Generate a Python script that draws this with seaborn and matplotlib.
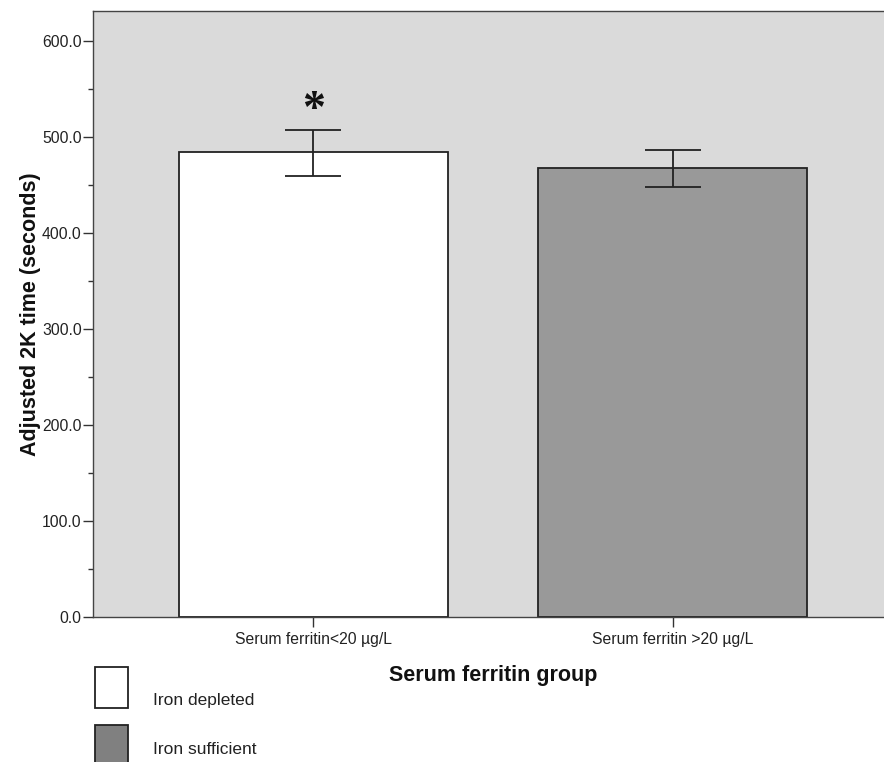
import matplotlib
matplotlib.use("Agg")
import matplotlib.pyplot as plt
from matplotlib.patches import Rectangle
from matplotlib.ticker import MultipleLocator
import numpy as np
import seaborn as sns

# ---- data ----
groups = ["Serum ferritin<20 \u00b5g/L", "Serum ferritin >20 \u00b5g/L"]
means = [484.0, 467.4]
ci_low = [459.0, 447.6]
ci_high = [507.3, 486.1]
y_ticks = [0, 100, 200, 300, 400, 500, 600]
legend_labels = ["Iron depleted", "Iron sufficient"]
bar_colors = ["#FFFFFF", "#999999"]
legend_colors = ["#FFFFFF", "#808080"]

sns.set_style("white")
plt.rcParams["font.family"] = ["Liberation Sans", "DejaVu Sans"]

W, H = 884, 762
fig = plt.figure(figsize=(W / 100, H / 100), dpi=100)
ax = fig.add_axes([93 / W, (H - 617) / H, 800 / W, 606 / H])
ax.set_facecolor("#DADADA")

sns.barplot(x=groups, y=means, hue=groups, palette=bar_colors, width=0.75,
            edgecolor="#222222", linewidth=1.3, errorbar=None, legend=False,
            ax=ax, zorder=2)

m = np.array(means)
yerr = [m - np.array(ci_low), np.array(ci_high) - m]
ax.errorbar(x=np.arange(len(groups)), y=m, yerr=yerr, fmt="none",
            ecolor="#222222", elinewidth=1.3, capsize=20.5, capthick=1.3,
            zorder=3)

# significance marker
ax.text(0, 527, "*", ha="center", va="center", fontsize=33, fontweight="bold",
        family=["Liberation Serif", "DejaVu Serif"], color="#111111")

ax.set_xlim(-0.613, 1.613)
ax.set_ylim(0, 631.25)
ax.set_yticks(y_ticks)
ax.set_yticklabels([f"{v:.1f}" for v in y_ticks])
ax.yaxis.set_minor_locator(MultipleLocator(50))

ax.tick_params(axis="y", which="major", direction="out", length=7.2, width=1,
               color="#333333", pad=1, labelsize=11.3, labelcolor="#222222",
               left=True)
ax.tick_params(axis="y", which="minor", direction="out", length=3.6, width=1,
               color="#333333", left=True)
ax.tick_params(axis="x", which="major", direction="out", length=7.2, width=1,
               color="#333333", pad=3.5, labelsize=11.3, labelcolor="#222222",
               bottom=True)

for side in ["left", "bottom", "top", "right"]:
    ax.spines[side].set_visible(True)
    ax.spines[side].set_color("#444444")
    ax.spines[side].set_linewidth(1.0)

ax.set_ylabel("Adjusted 2K time (seconds)", fontsize=15.5, fontweight="bold",
              color="#111111")
ax.yaxis.set_label_coords(-0.065, 0.5)
ax.set_xlabel("Serum ferritin group", fontsize=15.5, fontweight="bold",
              color="#111111")
ax.xaxis.set_label_coords(0.5, -0.0792)

# legend below the plot
box_tops = [667, 725]
text_base = [705, 754]
for lab, col, top, base in zip(legend_labels, legend_colors, box_tops, text_base):
    fig.add_artist(Rectangle((95 / W, (H - top - 41) / H), 33 / W, 41 / H,
                             transform=fig.transFigure, facecolor=col,
                             edgecolor="#222222", linewidth=1.3))
    fig.text(153 / W, (H - base) / H, lab, ha="left", va="baseline",
             fontsize=12.5, color="#222222")

fig.savefig("out.png", dpi=100)
